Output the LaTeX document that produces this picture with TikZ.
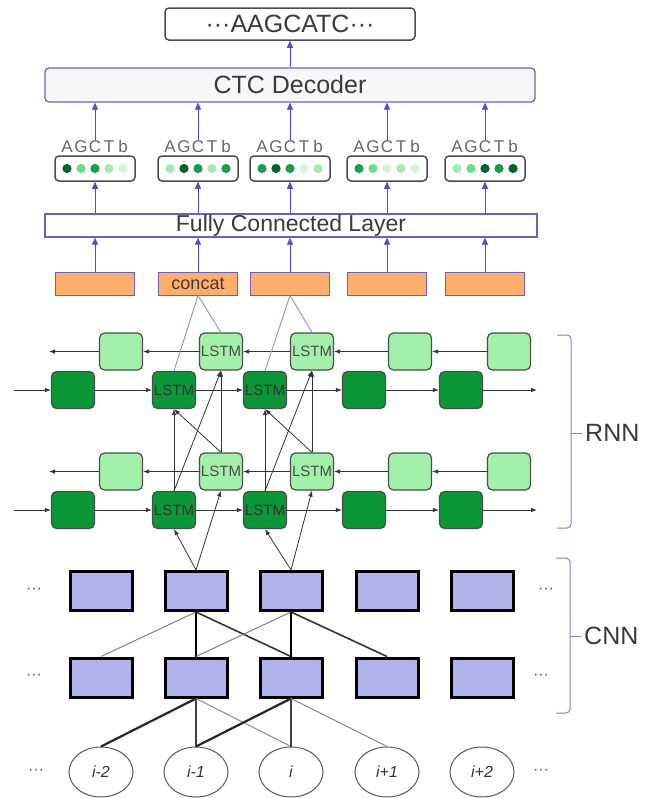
\documentclass[tikz,border=0pt]{standalone}
\usepackage{fontspec}
\setmainfont{Liberation Sans}
\usetikzlibrary{arrows.meta,shapes.geometric}
\definecolor{purp}{HTML}{5B45D6}
\definecolor{pborder}{HTML}{6B5FC7}
\definecolor{blin}{HTML}{8C8CE6}
\definecolor{orng}{HTML}{FFAE6B}
\definecolor{lav}{HTML}{B0B3EA}
\definecolor{dgreen}{HTML}{0B9638}
\definecolor{lgreen}{HTML}{A2F0A9}
\definecolor{g1}{HTML}{00652B}
\definecolor{g2}{HTML}{17A046}
\definecolor{g3}{HTML}{6FDC82}
\definecolor{g4}{HTML}{A6EBAE}
\definecolor{g5}{HTML}{D3F7D5}
\definecolor{txt}{HTML}{3A3A3A}
\definecolor{brc}{HTML}{8080E0}
\begin{document}
\begin{tikzpicture}[x=1pt,y=-1pt,
  parr/.style={draw=purp!80, line width=0.8pt, -{Triangle[length=7pt,width=6pt]}, purp},
  karr/.style={draw=black!80, line width=0.8pt, -{Latex[length=6pt,width=4.5pt]}},
  bline/.style={draw=blin, line width=0.9pt},
  seqbox/.style={draw=black!70, line width=1.5pt, rounded corners=4pt, fill=white, minimum width=250pt, minimum height=32pt, inner sep=0pt, text=txt, font=\fontsize{25}{30}\selectfont},
  ctcbox/.style={draw=pborder, line width=1.3pt, rounded corners=4pt, fill=black!3, minimum width=490pt, minimum height=34pt, inner sep=0pt, text=txt, font=\fontsize{25}{30}\selectfont},
  fcbox/.style={draw=pborder, line width=1.3pt, fill=white, minimum width=492pt, minimum height=23pt, inner sep=0pt, text=txt, font=\fontsize{23}{26}\selectfont},
  outbox/.style={draw=black!70, line width=1.5pt, rounded corners=4pt, fill=white, minimum width=80pt, minimum height=25pt, inner sep=0pt},
  labtext/.style={inner sep=0pt, text=black!60, font=\fontsize{17}{19}\selectfont},
  obox/.style={draw=pborder, line width=1pt, fill=orng, minimum width=79pt, minimum height=23pt, inner sep=0pt, text=txt, font=\fontsize{18}{20}\selectfont},
  lstml/.style={draw=black!70, line width=1.2pt, rounded corners=5pt, fill=lgreen, minimum width=43pt, minimum height=37pt, inner sep=0pt, text=black!70, font=\fontsize{15}{17}\selectfont},
  lstmd/.style={draw=black!70, line width=1.2pt, rounded corners=5pt, fill=dgreen, minimum width=43pt, minimum height=37pt, inner sep=0pt, text=black!80, font=\fontsize{15}{17}\selectfont},
  cbox/.style={draw=black, line width=3pt, fill=lav, minimum width=62pt, minimum height=39pt, inner sep=0pt},
  kcirc/.style={ellipse, draw=black!65, line width=1pt, fill=white, minimum width=64pt, minimum height=50pt, inner sep=0pt, text=black!80, font=\fontsize{16}{18}\selectfont\itshape},
  dots/.style={inner sep=0pt, text=black!65, font=\fontsize{16}{18}\selectfont},
  bigtxt/.style={inner sep=0pt, text=txt, font=\fontsize{25}{30}\selectfont},
  brace/.style={draw=brc, line width=1pt, rounded corners=4pt}
]
\useasboundingbox (0,0) rectangle (665,798);

% top
\node[seqbox] (seq) at (290,24) {···AAGCATC···};
\node[ctcbox] (ctc) at (290,85) {CTC Decoder};
\draw[parr] (ctc.north) -- (seq.south);
\node[fcbox] (fc) at (291,225.5) {Fully Connected Layer};

% output probability boxes
\foreach \i/\x/\ca/\cb/\cc/\cd/\ce in {1/95/g1/g3/g2/g4/g5, 2/198/g4/g1/g2/g4/g2, 3/290/g2/g1/g2/g5/g4, 4/387/g2/g3/g5/g4/g5, 5/485/g4/g3/g1/g2/g1}{
  \node[outbox] (o\i) at (\x,168.5) {};
  \fill[\ca] (\x-28,168.5) circle[radius=4.6pt];
  \fill[\cb] (\x-14,168.5) circle[radius=4.6pt];
  \fill[\cc] (\x,168.5) circle[radius=4.6pt];
  \fill[\cd] (\x+14,168.5) circle[radius=4.6pt];
  \fill[\ce] (\x+28,168.5) circle[radius=4.6pt];
  \node[labtext] (l\i) at (\x,146) {\makebox[14pt]{A}\makebox[14pt]{G}\makebox[14pt]{C}\makebox[14pt]{T}\makebox[14pt]{b}};
  \draw[parr] (l\i.north) -- (l\i.north |- ctc.south);
  \draw[parr] (o\i.south |- fc.north) -- (o\i.south);
}

% orange boxes
\foreach \i/\x/\t in {1/95/{}, 2/198/concat, 3/290/{}, 4/387/{}, 5/485/{}}{
  \node[obox] (r\i) at (\x,283.5) {\t};
  \draw[parr] (r\i.north) -- (r\i.north |- fc.south);
}

% RNN layers
\foreach \L/\yb/\yd in {U/351.5/390, D/471.5/510}{
  \foreach \i/\bx/\dx/\t in {1/121/73/{}, 2/221/174/LSTM, 3/312/265/LSTM, 4/410/364/{}, 5/509/461/{}}{
    \node[lstml] (\L b\i) at (\bx,\yb) {\t};
    \node[lstmd] (\L d\i) at (\dx,\yd) {\t};
  }
  \coordinate (\L in) at (14,\yd);
  \coordinate (\L out) at (537,\yd);
  \coordinate (\L end) at (49,\yb);
  \draw[karr] (\L in) -- (\L d1);
  \draw[karr] (\L d1) -- (\L d2);
  \draw[karr] (\L d2) -- (\L d3);
  \draw[karr] (\L d3) -- (\L d4);
  \draw[karr] (\L d4) -- (\L d5);
  \draw[karr] (\L d5) -- (\L out);
  \draw[karr] (\L b5) -- (\L b4);
  \draw[karr] (\L b4) -- (\L b3);
  \draw[karr] (\L b3) -- (\L b2);
  \draw[karr] (\L b2) -- (\L b1);
  \draw[karr] (\L b1) -- (\L end);
}

% CNN rows and inputs
\foreach \i/\x/\t in {1/101/i-2, 2/196/i-1, 3/291/i, 4/387/i+1, 5/482/i+2}{
  \node[cbox] (c\i) at (\x,591) {};
  \node[cbox] (e\i) at (\x,677.5) {};
  \node[kcirc] (k\i) at (\x,772) {\t};
}
\node[dots] (dl1) at (34,591) {···};
\node[dots] (dr1) at (546,591) {···};
\node[dots] (dl2) at (34,677) {···};
\node[dots] (dr2) at (541,677) {···};
\node[dots] (dl3) at (36,772) {···};
\node[dots] (dr3) at (541,772) {···};

\foreach \i/\p/\n in {2/1/3, 3/2/4}{
  % concat lines
  \draw[bline] (r\i.south) -- (Ud\i.north);
  \draw[bline] (r\i.south) -- (Ub\i.north);
  % between layers
  \draw[karr] (Dd\i.north) -- (Ud\i.south);
  \draw[karr] (Db\i.north) -- (Ud\i.south);
  \draw[karr] (Dd\i.north) -- (Ub\i.south);
  \draw[karr] (Db\i.north) -- (Ub\i.south);
  % CNN to RNN
  \draw[karr] (c\i.north) -- (Dd\i.south);
  \draw[karr] (c\i.north) -- (Db\i.south);
  % CNN connections
  \draw[draw=black!50, line width=1pt] (c\i.south) -- (e\p.north);
  \draw[draw=black, line width=2.5pt] (c\i.south) -- (e\i.north);
  \draw[draw=black!80, line width=1.6pt] (c\i.south) -- (e\n.north);
  \draw[draw=black!85, line width=2.2pt] (e\i.south) -- (k\p.north);
  \draw[draw=black!75, line width=1.1pt] (e\i.south) -- (k\i.north);
  \draw[draw=black!45, line width=1pt] (e\i.south) -- (k\n.north);
}

% braces
\draw[brace] (557,335) -- (571,335) -- (571,433) -- (571,528) -- (557,528);
\draw[draw=brc, line width=1pt] (571,433) -- (582,433);
\node[bigtxt, anchor=west] (rnn) at (585,433) {RNN};
\draw[brace] (556,558) -- (570,558) -- (570,636) -- (570,713) -- (556,713);
\draw[draw=brc, line width=1pt] (570,636) -- (581,636);
\node[bigtxt, anchor=west] (cnn) at (584,636) {CNN};
\end{tikzpicture}
\end{document}
